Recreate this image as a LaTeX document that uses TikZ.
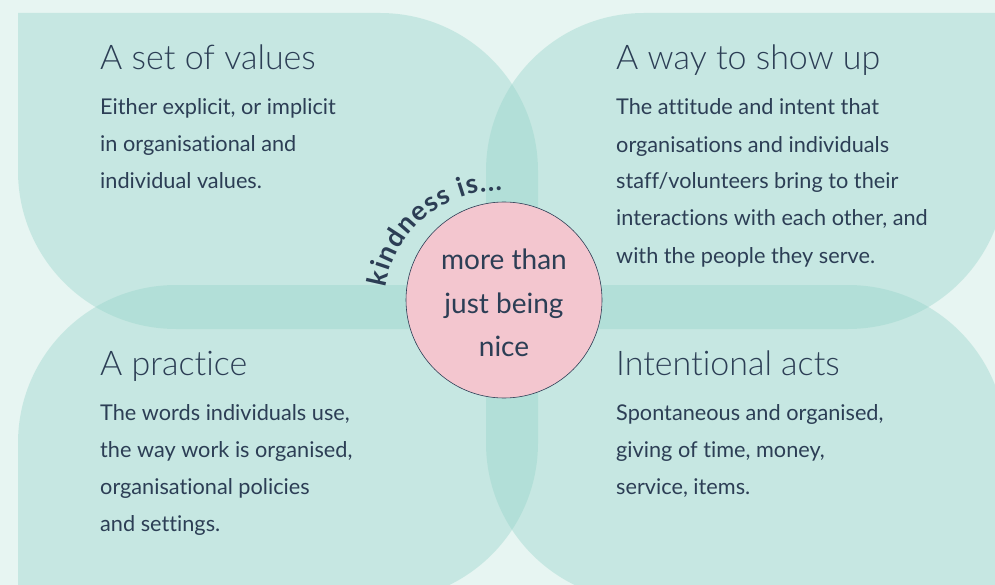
\documentclass[tikz,border=0pt]{standalone}
\usepackage{fontspec}
\setmainfont{Lato}[Ligatures = NoCommon]
\newfontfamily\headfont{Lato Light}[Ligatures = NoCommon]
\usetikzlibrary{decorations.text}
\definecolor{mintbg}{HTML}{E7F5F2}
\definecolor{petalgreen}{HTML}{96D4CA}
\definecolor{blush}{HTML}{F3C6CF}
\definecolor{inkblue}{HTML}{2C3E55}
\tikzset{petal/.style = {fill = petalgreen, fill opacity = 0.4}}
\tikzset{heading/.style = {anchor = base west, inner sep = 0, text = inkblue, font = \headfont\fontsize{34}{40}\selectfont}}
% blurbs are placed by the baseline of their last line
\tikzset{blurb/.style = {anchor = base west, inner sep = 0, align = left, text = inkblue, font = \fontsize{21.7}{37}\selectfont}}

\begin{document}
\begin{tikzpicture}[x = 1pt, y = -1pt]
    \useasboundingbox (0, 0) rectangle (995, 585);
    \clip (0, 0) rectangle (995, 585);
    \fill [mintbg] (0, 0) rectangle (995, 585);
    % four leaves, each rounded on two opposite corners
    \fill [petal] (18, 13) -- (380, 13) arc (270:360:158) -- (538, 329) -- (176, 329) arc (90:180:158) -- cycle;
    \fill [petal] (1006, 13) -- (1006, 171) arc (0:90:158) -- (486, 329) -- (486, 171) arc (180:270:158) -- cycle;
    \fill [petal] (18, 601) -- (18, 443) arc (180:270:158) -- (538, 285) -- (538, 443) arc (0:90:158) -- cycle;
    \fill [petal] (486, 285) -- (848, 285) arc (270:360:158) -- (1006, 601) -- (644, 601) arc (90:180:158) -- cycle;

    \node [heading] (values) at (100, 70) {A set of values};
    \node [blurb] (valuesblurb) at (100, 189) {Either explicit, or implicit\\in organisational and\\individual values.};
    \node [heading] (showup) at (616, 70) {A way to show up};
    \node [blurb] (showupblurb) at (616, 263) {The attitude and intent that\\organisations and individuals\\staff/volunteers bring to their\\interactions with each other, and\\with the people they serve.};
    \node [heading] (practice) at (100, 375) {A practice};
    \node [blurb] (practiceblurb) at (100, 531) {The words individuals use,\\the way work is organised,\\organisational policies\\and settings.};
    \node [heading] (acts) at (616, 375) {Intentional acts};
    \node [blurb] (actsblurb) at (616, 494) {Spontaneous and organised,\\giving of time, money,\\service, items.};

    \node [circle, draw = inkblue, line width = 0.6pt, fill = blush, minimum size = 196, inner sep = 0] (nice) at (504, 300) {};
    \node [align = center, text = inkblue, font = \fontsize{28}{43.5}\selectfont] (nicetext) at ([yshift = -3pt] nice.center) {more than\\just being\\nice};
    \coordinate (arcmid) at (498, 305);
    \path [decorate, decoration = {text along path, text align = fit to path, text = {|\color{inkblue}\fontsize{27}{27}\bfseries|kindness is...}}] (arcmid) ++(189:114) arc (189:272:114);
\end{tikzpicture}
\end{document}
